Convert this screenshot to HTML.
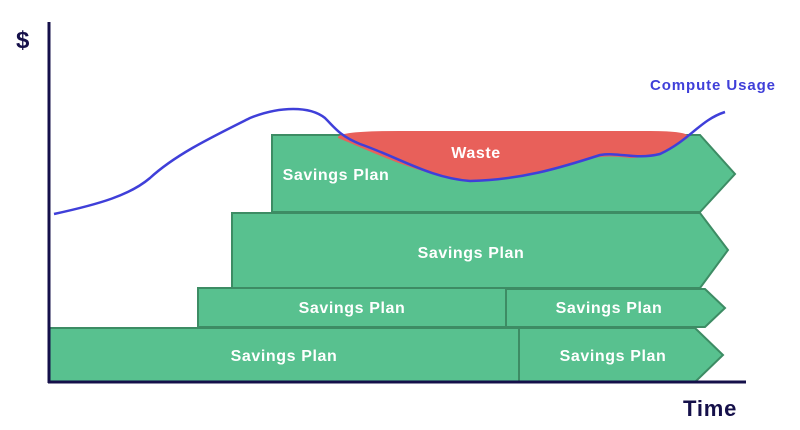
<!DOCTYPE html>
<html><head><style>body{margin:0;background:#fff}svg{display:block}</style></head><body>
<svg width="800" height="430" viewBox="0 0 800 430" font-family="Liberation Sans, sans-serif">
<g fill="#58c18f" stroke="#3d8c64" stroke-width="2">
<polygon points="272,135 700,135 735,174 700,212 272,212"/>
<polygon points="232,213 700,213 728,250 700,288 232,288"/>
<polygon points="198,288 506,288 506,327 198,327"/>
<polygon points="506,289 705,289 725,308 705,327 506,327"/>
<polygon points="49,328 519,328 519,382 49,382"/>
<polygon points="519,328 695,328 723,355 695,382 519,382"/>
</g>
<path d="M338,138 Q336,131 400,131 L650,131 Q692,131 688,138 C670,150 650,158 630,158 C610,156 600,155 580,162 C540,172 500,180 470,180 C420,176 380,155 338,138 Z" fill="#e8605a"/>
<path d="M54,214 C100,204 130,195 150,178 C175,155 210,138 250,118 C280,106 310,106 325,118 C335,128 340,136 360,144 C400,158 430,178 470,181 C520,180 560,168 600,155 C620,152 635,160 660,154 C690,140 700,120 725,112" fill="none" stroke="#3f3fd9" stroke-width="2.5"/>
<g fill="#fff" font-size="16" font-weight="bold" text-anchor="middle" letter-spacing="0.6">
<text x="476" y="158">Waste</text>
<text x="336" y="180">Savings Plan</text>
<text x="471" y="258">Savings Plan</text>
<text x="352" y="313">Savings Plan</text>
<text x="609" y="313">Savings Plan</text>
<text x="284" y="361">Savings Plan</text>
<text x="613" y="361">Savings Plan</text>
</g>
<line x1="49" y1="22" x2="49" y2="383" stroke="#15104a" stroke-width="3"/>
<line x1="48" y1="382" x2="746" y2="382" stroke="#15104a" stroke-width="3"/>
<text x="16" y="48" font-size="24" font-weight="bold" fill="#15104a">$</text>
<text x="650" y="90" font-size="15" font-weight="bold" fill="#3f3fd9" letter-spacing="0.9">Compute Usage</text>
<text x="683" y="416" font-size="22" font-weight="bold" fill="#15104a" letter-spacing="0.8">Time</text>
</svg>
</body></html>
